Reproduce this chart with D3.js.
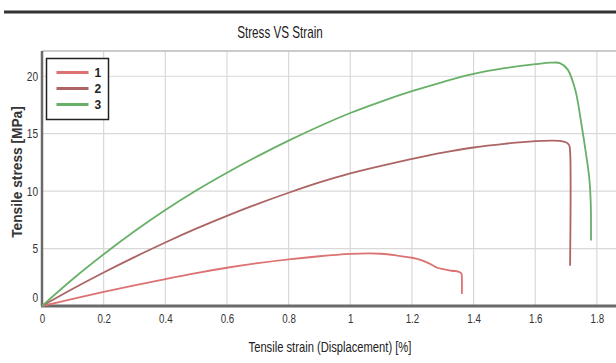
<!DOCTYPE html>
<html>
<head>
<meta charset="utf-8">
<script src="https://cdn.jsdelivr.net/npm/d3@7"></script>
<style>
  html, body { margin: 0; padding: 0; background: #fff; }
  svg { display: block; }
</style>
</head>
<body>
<div id="chart"></div>
<script>
// series
const strain1 = [0, 0.1, 0.2, 0.3, 0.4, 0.5, 0.6, 0.7, 0.8, 0.9, 1.0, 1.06, 1.1, 1.15, 1.2, 1.23, 1.25, 1.27, 1.28, 1.30, 1.33, 1.35, 1.36, 1.362, 1.362];
const stress1 = [0, 0.62, 1.22, 1.8, 2.35, 2.87, 3.33, 3.73, 4.06, 4.33, 4.53, 4.58, 4.55, 4.4, 4.2, 4.0, 3.78, 3.5, 3.35, 3.2, 3.07, 3.0, 2.85, 2.4, 1.05];

const strain2 = [0, 0.1, 0.2, 0.3, 0.4, 0.5, 0.6, 0.7, 0.8, 0.9, 1.0, 1.1, 1.2, 1.3, 1.4, 1.5, 1.6, 1.65, 1.68, 1.70, 1.71, 1.713, 1.713];
const stress2 = [0, 1.5, 2.92, 4.26, 5.53, 6.73, 7.85, 8.89, 9.86, 10.76, 11.55, 12.2, 12.8, 13.35, 13.8, 14.12, 14.35, 14.4, 14.38, 14.25, 14.0, 13.5, 3.5];

const strain3 = [0, 0.1, 0.2, 0.3, 0.4, 0.5, 0.6, 0.7, 0.8, 0.9, 1.0, 1.1, 1.2, 1.3, 1.4, 1.5, 1.6, 1.65, 1.68, 1.705, 1.73, 1.75, 1.765, 1.775, 1.78, 1.781];
const stress3 = [0, 2.35, 4.5, 6.5, 8.35, 10.05, 11.6, 13.05, 14.4, 15.65, 16.8, 17.8, 18.7, 19.5, 20.2, 20.7, 21.05, 21.18, 21.15, 20.6, 18.8, 15.8, 13.2, 11.2, 9.0, 5.7];

const seriesNames = ['1', '2', '3'];
const xTicks = [0, 0.2, 0.4, 0.6, 0.8, 1, 1.2, 1.4, 1.6, 1.8];
const xTickLabels = ['0', '0.2', '0.4', '0.6', '0.8', '1', '1.2', '1.4', '1.6', '1.8'];
const yTicks = [0, 5, 10, 15, 20];

const width = 616;
const height = 363;
const margin = { top: 51, right: 0, bottom: 57, left: 42 };
const font = 'Arial, "Liberation Sans", sans-serif';
const colors = ['#dd7272', '#ad6464', '#68b068'];

const svg = d3.select('#chart')
  .append('svg')
  .attr('width', width)
  .attr('height', height);

const x = d3.scaleLinear()
  .domain([0, 1.862])
  .range([margin.left, width - margin.right]);

const y = d3.scaleLinear()
  .domain([0, 22.2])
  .range([height - margin.bottom, margin.top]);

// condensed text: the original uses a narrow face, so squeeze horizontally
function label(px, py, str, size, squeeze, weight, rotate) {
  const g = svg.append('g')
    .attr('transform', `translate(${px}, ${py})` + (rotate ? ` rotate(${rotate})` : ''));
  return g.append('text')
    .attr('transform', `scale(${squeeze}, 1)`)
    .attr('text-anchor', 'middle')
    .style('font-family', font)
    .style('font-size', size + 'px')
    .style('font-weight', weight || 'normal')
    .style('fill', '#222')
    .text(str);
}

// dark rule across the top of the figure
svg.append('line')
  .attr('x1', 4).attr('x2', width)
  .attr('y1', 12).attr('y2', 12)
  .attr('stroke', '#333')
  .attr('stroke-width', 3);

label(280, 38, 'Stress VS Strain', 16, 0.73);

// grid
const grid = svg.append('g');
grid.selectAll('.vgrid')
  .data(xTicks.slice(1))
  .enter()
  .append('line')
  .attr('x1', d => x(d)).attr('x2', d => x(d))
  .attr('y1', y.range()[1]).attr('y2', y.range()[0])
  .attr('stroke', '#d9d9d9')
  .attr('stroke-width', 1.2);

grid.selectAll('.hgrid')
  .data(yTicks.slice(1))
  .enter()
  .append('line')
  .attr('x1', x.range()[0]).attr('x2', x.range()[1])
  .attr('y1', d => y(d)).attr('y2', d => y(d))
  .attr('stroke', '#d9d9d9')
  .attr('stroke-width', 1.2);

// top border of the plot
svg.append('line')
  .attr('x1', x.range()[0]).attr('x2', x.range()[1])
  .attr('y1', y.range()[1]).attr('y2', y.range()[1])
  .attr('stroke', '#bbb')
  .attr('stroke-width', 1.5);

// axes
const xAxis = d3.axisBottom(x)
  .tickValues(xTicks)
  .tickFormat((d, i) => xTickLabels[i])
  .tickSize(0)
  .tickPadding(8);

const yAxis = d3.axisLeft(y)
  .tickValues(yTicks)
  .tickFormat(d => String(d))
  .tickSize(0)
  .tickPadding(5);

const gx = svg.append('g')
  .attr('transform', `translate(0, ${y.range()[0]})`)
  .call(xAxis);
gx.select('.domain').remove();
gx.selectAll('text')
  .attr('transform', 'scale(0.75, 1)')
  .style('font-family', font)
  .style('font-size', '13px')
  .style('fill', '#333');

const gy = svg.append('g')
  .attr('transform', `translate(${x.range()[0]}, 0)`)
  .call(yAxis);
gy.select('.domain').remove();
gy.selectAll('text')
  .attr('transform', 'scale(0.78, 1)')
  .style('font-family', font)
  .style('font-size', '13px')
  .style('fill', '#333')
  .attr('dy', d => d === 0 ? '-0.35em' : '0.32em');

svg.append('line')
  .attr('x1', x.range()[0]).attr('x2', x.range()[0])
  .attr('y1', y.range()[1]).attr('y2', y.range()[0])
  .attr('stroke', '#6a6a6a')
  .attr('stroke-width', 2.5);

svg.append('line')
  .attr('x1', x.range()[0] - 1).attr('x2', x.range()[1])
  .attr('y1', y.range()[0]).attr('y2', y.range()[0])
  .attr('stroke', '#6a6a6a')
  .attr('stroke-width', 3);

// axis titles
label(330, 352, 'Tensile strain (Displacement) [%]', 14, 0.8);
label(22, 172, 'Tensile stress [MPa]', 14, 0.98, 'bold', -90).style('fill', '#333');

// curves
const series = [
  strain1.map((s, i) => [s, stress1[i]]),
  strain2.map((s, i) => [s, stress2[i]]),
  strain3.map((s, i) => [s, stress3[i]])
];

const line = d3.line()
  .x(d => x(d[0]))
  .y(d => y(d[1]))
  .curve(d3.curveCatmullRom.alpha(0.5));

svg.selectAll('.curve')
  .data(series)
  .enter()
  .append('path')
  .attr('d', line)
  .attr('fill', 'none')
  .attr('stroke', (d, i) => colors[i])
  .attr('stroke-width', 1.8)
  .attr('stroke-linejoin', 'round');

// legend
const legend = svg.append('g').attr('transform', 'translate(46.5, 58.5)');
legend.append('rect')
  .attr('width', 62)
  .attr('height', 61)
  .attr('fill', '#fff')
  .attr('stroke', '#222')
  .attr('stroke-width', 1.5);

const items = legend.selectAll('.item')
  .data(seriesNames)
  .enter()
  .append('g')
  .attr('transform', (d, i) => `translate(0, ${14 + i * 16})`);

items.append('line')
  .attr('x1', 10).attr('x2', 42)
  .attr('stroke', (d, i) => colors[i])
  .attr('stroke-width', 3);

items.append('text')
  .attr('x', 48)
  .attr('dy', '0.35em')
  .attr('transform', 'scale(1, 1)')
  .style('font-family', font)
  .style('font-size', '12px')
  .style('font-weight', 'bold')
  .style('fill', '#222')
  .text(d => d);
</script>
</body>
</html>
